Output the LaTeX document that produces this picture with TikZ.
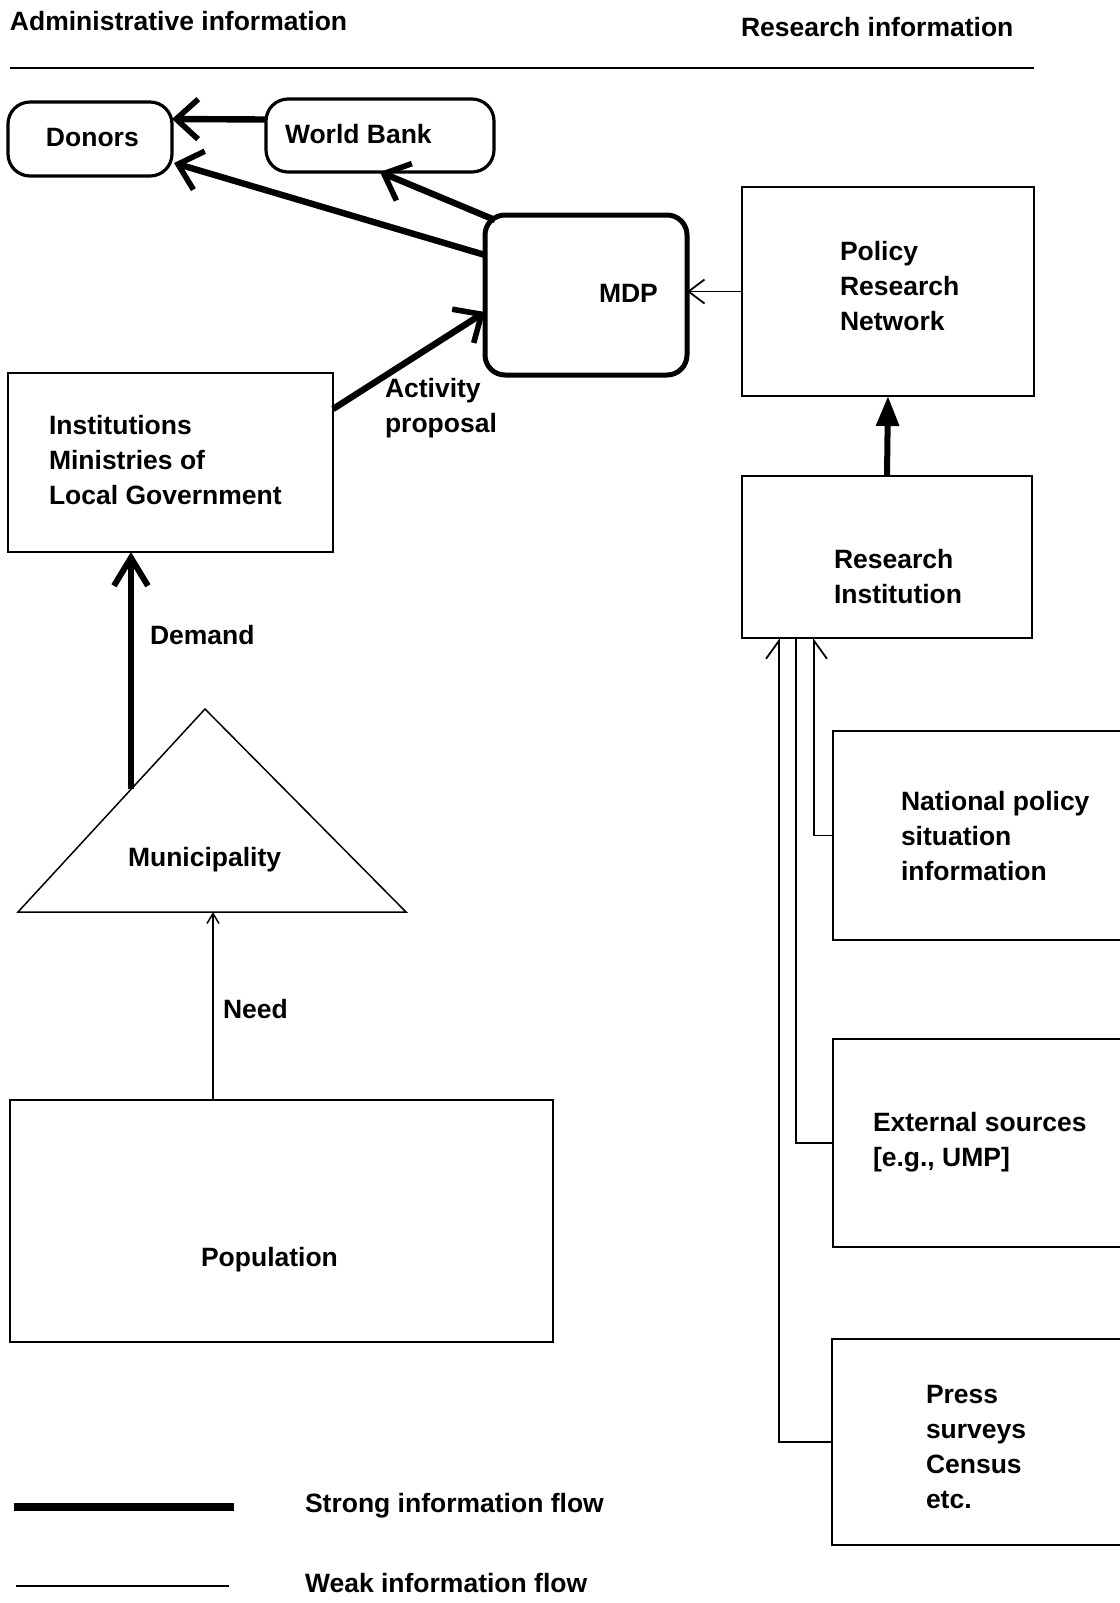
\documentclass[tikz,border=0pt]{standalone}
\usepackage{fontspec}
\setmainfont{Liberation Sans}
\usetikzlibrary{arrows.meta,calc}
\begin{document}
\begin{tikzpicture}[x=0.5pt,y=-0.5pt,
  every node/.style={font=\bfseries\fontsize{13.25pt}{17.5pt}\selectfont, inner sep=0pt, outer sep=0pt},
  txt/.style={anchor=west, align=left},
  sqbox/.style={draw, line width=1pt, rectangle},
  rbox/.style={draw, line width=1.6pt, rectangle, rounded corners=11pt},
  strong/.style={line width=3.2pt, -{Straight Barb[length=11pt,width=20pt,line width=2.8pt]}},
  weak/.style={line width=0.9pt},
  weakarrow/.style={line width=0.9pt, -{Straight Barb[length=8pt,width=12pt,line width=0.9pt]}}
]
\clip (0,0) rectangle (1120,1603);
\fill[white] (0,0) rectangle (1120,1603);

% headers
\node[txt] (hAdm) at (10,21) {Administrative information};
\node[txt] (hRes) at (741,27) {Research information};
\coordinate (hl1) at (10,68);
\coordinate (hl2) at (1034,68);
\draw[line width=1pt] (hl1) -- (hl2);

% boxes
\node[rbox, minimum width=82pt, minimum height=37pt] (donors) at (90,139) {};
\node[rbox, minimum width=114pt, minimum height=36.5pt] (wb) at (380,135.5) {};
\node[draw, line width=2.5pt, rounded corners=10pt, minimum width=101pt, minimum height=80pt] (mdp) at (586,295) {};
\node[sqbox, minimum width=146pt, minimum height=104.5pt] (prn) at (888,291.5) {};
\node[sqbox, minimum width=145pt, minimum height=81pt] (ri) at (887,557) {};
\node[sqbox, minimum width=162.5pt, minimum height=89.5pt] (inst) at (170.5,462.5) {};
\node[sqbox, minimum width=271.5pt, minimum height=121pt] (pop) at (281.5,1221) {};
\node[sqbox, minimum width=153.5pt, minimum height=104.5pt] (nat) at (986.5,835.5) {};
\node[sqbox, minimum width=153.5pt, minimum height=104pt] (ext) at (986.5,1143) {};
\node[sqbox, minimum width=154pt, minimum height=103pt] (press) at (986,1442) {};

% triangle
\coordinate (triA) at (205,709);
\coordinate (triL) at (18,912);
\coordinate (triR) at (406,912);
\draw[line width=0.75pt, line join=miter] (triA) -- (triL) -- (triR) -- cycle;

% texts
\node[txt] (tDonors) at (46,138) {Donors};
\node[txt] (tWB) at (285,134) {World Bank};
\node[txt] (tMDP) at (599,293) {MDP};
\node[txt] (tPRN) at (840,286) {Policy\\Research\\Network};
\node[txt] (tRI) at (834,577) {Research\\Institution};
\node[txt] (tInst) at (49,460) {Institutions\\Ministries of\\Local Government};
\node[txt] (tAct) at (385,408) {Activity\\proposal};
\node[txt] (tDem) at (150,635) {Demand};
\node[txt] (tMun) at (128,860) {Municipality};
\node[txt] (tNeed) at (223,1009) {Need};
\node[txt] (tPop) at (201,1260) {Population};
\node[txt] (tNat) at (901,836) {National policy\\situation\\information};
\node[txt] (tExt) at (873,1142) {External sources\\{[e.g., UMP]}};
\node[txt] (tPress) at (926,1447) {Press\\surveys\\Census\\etc.};
\node[txt] (tStrong) at (305,1506) {Strong information flow};
\node[txt] (tWeak) at (305,1583) {Weak information flow};

% strong connectors
\draw[strong] ($(wb.west)+(0,-16)$) -- ($(donors.east)+(0,-20)$);
\draw[strong] ($(mdp.north west)+(0,40)$) -- ($(donors.south east)+(2,-13)$);
\draw[strong] ($(mdp.north west)+(10,5)$) -- (wb.south);
\draw[strong] ($(inst.north east)+(0,36)$) -- ($(mdp.west)+(0,17)$);
\draw[line width=3pt, -{Triangle[length=15pt,width=11pt]}] (ri.north) -- (prn.south);
\coordinate (dS) at ($(triL)!0.604!(triA)$);
\draw[line width=3.2pt, -{Straight Barb[length=14pt,width=17pt,line width=3pt]}] (dS) -- (dS |- inst.south);

% weak connectors
\draw[weakarrow] (prn.west) -- (prn.west -| mdp.east);
\coordinate (nS) at ($(pop.north west)+(203,0)$);
\draw[line width=0.75pt, -{Straight Barb[length=5pt,width=6pt,line width=0.75pt]}] (nS) -- (nS |- triL);

\coordinate (riA) at ($(ri.south west)+(37,0)$);
\coordinate (riB) at ($(ri.south west)+(54,0)$);
\coordinate (riC) at ($(ri.south west)+(72,0)$);
\draw[weak, -{Straight Barb[left,length=9pt,width=13pt,line width=0.9pt]}] (press.west) -| (riA);
\draw[weak] (ext.west) -| (riB);
\draw[weak, -{Straight Barb[right,length=9pt,width=13pt,line width=0.9pt]}] (nat.west) -| (riC);

% legend
\coordinate (ls1) at (14,1507);
\coordinate (ls2) at (234,1507);
\draw[line width=4pt] (ls1) -- (ls2);
\coordinate (lw1) at (16,1586);
\coordinate (lw2) at (229,1586);
\draw[line width=1pt] (lw1) -- (lw2);
\end{tikzpicture}
\end{document}
